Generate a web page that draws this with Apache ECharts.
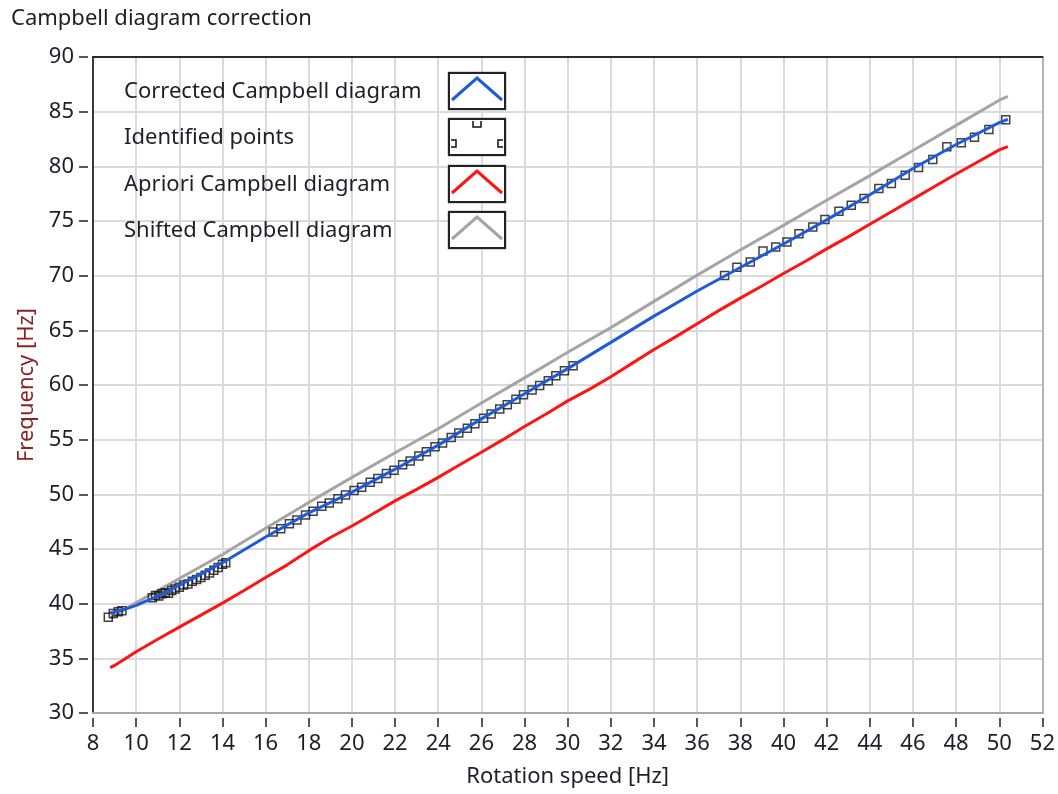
<!DOCTYPE html>
<html>
<head>
<meta charset="utf-8">
<title>Campbell diagram correction</title>
<script src="https://cdn.jsdelivr.net/npm/echarts@6/dist/echarts.min.js"></script>
<style>
  html, body { margin: 0; padding: 0; background: #ffffff; }
  #chart { width: 1058px; height: 794px; }
</style>
</head>
<body>
<div id="chart"></div>
<script>
// Apriori Campbell diagram (red)
const aprioriSpeed = [8.8, 9, 10, 11, 12, 13, 14, 15, 16, 17, 18, 19, 20, 21, 22, 23, 24, 25, 26, 27, 28, 29, 30,
  31, 32, 33, 34, 35, 36, 37, 38, 39, 40, 41, 42, 43, 44, 45, 46, 47, 48, 49, 50, 50.4];
const aprioriFreq = [34.15, 34.35, 35.6, 36.75, 37.85, 38.95, 40.05, 41.2, 42.4, 43.55, 44.85, 46.05, 47.1, 48.25,
  49.4, 50.45, 51.55, 52.7, 53.85, 55.0, 56.2, 57.35, 58.55, 59.6, 60.75, 62.0, 63.25, 64.4, 65.6, 66.8, 67.95,
  69.05, 70.2, 71.3, 72.45, 73.55, 74.7, 75.85, 77.0, 78.15, 79.3, 80.4, 81.5, 81.8];

// Shifted Campbell diagram (grey)
const shiftedSpeed = [8.8, 10, 12, 14, 16, 18, 20, 22, 24, 26, 28, 30, 32, 34, 36, 38, 40, 42, 44, 46, 48, 50, 50.4];
const shiftedFreq = [38.65, 40.1, 42.3, 44.5, 46.9, 49.25, 51.55, 53.8, 56.0, 58.35, 60.65, 63.0, 65.25, 67.65,
  70.05, 72.35, 74.6, 76.9, 79.15, 81.45, 83.75, 86.05, 86.4];

// Corrected Campbell diagram (blue)
const correctedSpeed = [8.8, 9.5, 10, 11, 12, 13, 14, 16, 18, 20, 22, 24, 26, 28, 30, 32, 34, 36, 38, 40, 42, 44,
  46, 48, 50, 50.4];
const correctedFreq = [39.15, 39.5, 39.85, 40.7, 41.7, 42.7, 43.75, 46.1, 48.3, 50.2, 52.3, 54.5, 56.9, 59.2, 61.5,
  63.9, 66.3, 68.6, 70.75, 72.9, 75.1, 77.4, 79.8, 82.0, 84.0, 84.3];

// Identified points (square markers)
const pointSpeed = [8.71, 8.94, 9.17, 9.34,
  10.75, 10.9, 11.05, 11.2, 11.35, 11.5, 11.65, 11.8, 12.0, 12.2, 12.4, 12.6, 12.8, 13.0, 13.2, 13.4, 13.6, 13.8, 14.0, 14.15,
  16.35, 16.7, 17.1, 17.45, 17.85, 18.2, 18.6, 18.95, 19.35, 19.7, 20.1, 20.45, 20.85, 21.2, 21.6, 21.95, 22.35, 22.7,
  23.1, 23.45, 23.85, 24.2, 24.6, 24.95, 25.35, 25.7, 26.1, 26.45, 26.85, 27.2, 27.6, 27.95, 28.35, 28.7, 29.1, 29.45,
  29.85, 30.25,
  37.27, 37.84, 38.46, 39.05, 39.64, 40.16, 40.72, 41.36, 41.92, 42.57, 43.14, 43.73, 44.42, 45.0, 45.64, 46.26,
  46.92, 47.57, 48.24, 48.85, 49.52, 50.3];
const pointFreq = [38.75, 39.1, 39.25, 39.35,
  40.55, 40.75, 40.7, 40.9, 41.0, 40.95, 41.2, 41.35, 41.5, 41.7, 41.8, 42.05, 42.2, 42.4, 42.6, 42.8, 43.05, 43.3, 43.6, 43.75,
  46.55, 46.85, 47.3, 47.65, 48.1, 48.45, 48.9, 49.2, 49.6, 49.95, 50.35, 50.65, 51.1, 51.45, 51.9, 52.2, 52.7, 53.05,
  53.5, 53.9, 54.35, 54.7, 55.2, 55.6, 56.05, 56.45, 56.95, 57.35, 57.8, 58.2, 58.7, 59.1, 59.55, 59.95, 60.4, 60.85,
  61.3, 61.75,
  70.02, 70.78, 71.24, 72.25, 72.62, 73.07, 73.84, 74.45, 75.13, 75.89, 76.44, 77.05, 77.97, 78.43, 79.19, 79.9,
  80.63, 81.79, 82.16, 82.65, 83.38, 84.25];

const legendLabels = ['Corrected Campbell diagram', 'Identified points', 'Apriori Campbell diagram', 'Shifted Campbell diagram'];

const zip = (xs, ys) => xs.map((x, i) => [x, ys[i]]);

const FONT = '"Noto Sans", "Open Sans", sans-serif';
const FS = 22;
const TEXT = '#1e1e28';
const BLUE = '#1f5ad8';
const RED = '#ff1414';
const GREY = '#a5a5a5';

// Legend block: label on the left, framed sample on the right
const rowY = [91, 137, 184, 230];
const boxX = 449, boxW = 56, boxH = 36;
const legendGraphics = [];
legendLabels.forEach((label, i) => {
  const cy = rowY[i];
  legendGraphics.push({
    type: 'text', x: 124, y: cy + 1, z: 100,
    style: { text: label, fill: TEXT, font: FS + 'px ' + FONT, verticalAlign: 'middle', textVerticalAlign: 'middle' }
  });
  legendGraphics.push({
    type: 'rect', z: 100, shape: { x: boxX - 1, y: cy - boxH / 2 - 1, width: boxW + 2, height: boxH + 2 },
    style: { fill: 'none', stroke: '#b0b0b0', lineWidth: 1 }
  });
  legendGraphics.push({
    type: 'rect', z: 101, shape: { x: boxX, y: cy - boxH / 2, width: boxW, height: boxH },
    style: { fill: '#ffffff', stroke: '#222222', lineWidth: 2 }
  });
  const sampleColor = [BLUE, null, RED, GREY][i];
  if (sampleColor) {
    legendGraphics.push({
      type: 'polyline', z: 102, shape: { points: [[boxX + 3, cy + 9], [boxX + 28, cy - 13], [boxX + 53, cy + 9]] },
      style: { stroke: sampleColor, lineWidth: 3, fill: 'none' }
    });
  } else {
    const s = { stroke: '#111', lineWidth: 1.5, fill: 'none' };
    legendGraphics.push({ type: 'polyline', z: 102, shape: { points: [[boxX + 24, cy - 16], [boxX + 24, cy - 10], [boxX + 32, cy - 10], [boxX + 32, cy - 16]] }, style: s });
    legendGraphics.push({ type: 'polyline', z: 102, shape: { points: [[boxX + 2, cy + 3], [boxX + 7, cy + 3], [boxX + 7, cy + 10], [boxX + 2, cy + 10]] }, style: s });
    legendGraphics.push({ type: 'polyline', z: 102, shape: { points: [[boxX + 54, cy + 3], [boxX + 49, cy + 3], [boxX + 49, cy + 10], [boxX + 54, cy + 10]] }, style: s });
  }
});

const labelStyle = { color: TEXT, fontSize: FS, fontFamily: FONT };

const option = {
  animation: false,
  backgroundColor: '#ffffff',
  title: {
    text: 'Campbell diagram correction', left: 6, top: 3,
    textStyle: { color: TEXT, fontSize: FS, fontWeight: 'normal', fontFamily: FONT }
  },
  grid: { left: 93, right: 15, top: 57, bottom: 81, containLabel: false },
  xAxis: [
    {
      type: 'value', min: 8, max: 52, interval: 2, position: 'bottom',
      axisLine: { show: true, onZero: false, lineStyle: { color: '#a8a8a8', width: 2 } },
      axisTick: { show: false }, axisLabel: { show: false },
      splitLine: { show: true, lineStyle: { color: '#dadada', width: 2 } }
    },
    {
      type: 'value', min: 8, max: 52, interval: 2, position: 'bottom', offset: 5,
      axisLine: { show: false, onZero: false },
      axisTick: { show: true, length: 9, lineStyle: { color: '#222', width: 1.5 } },
      axisLabel: Object.assign({ margin: 15 }, labelStyle),
      splitLine: { show: false },
      name: 'Rotation speed [Hz]', nameLocation: 'middle', nameGap: 48,
      nameTextStyle: { color: TEXT, fontSize: FS, fontFamily: FONT }
    },
    {
      type: 'value', min: 8, max: 52, interval: 2, position: 'top',
      axisLine: { show: true, onZero: false, lineStyle: { color: '#2a2a2a', width: 2 } },
      axisTick: { show: false }, axisLabel: { show: false }, splitLine: { show: false }
    }
  ],
  yAxis: [
    {
      type: 'value', min: 30, max: 90, interval: 5, position: 'left',
      axisLine: { show: true, onZero: false, lineStyle: { color: '#3a3a3a', width: 2 } },
      axisTick: { show: false }, axisLabel: { show: false },
      splitLine: { show: true, lineStyle: { color: '#dadada', width: 2 } }
    },
    {
      type: 'value', min: 30, max: 90, interval: 5, position: 'left', offset: 5,
      axisLine: { show: false, onZero: false },
      axisTick: { show: true, length: 9, lineStyle: { color: '#222', width: 1.5 } },
      axisLabel: Object.assign({ margin: 14 }, labelStyle),
      splitLine: { show: false },
      name: 'Frequency [Hz]', nameLocation: 'middle', nameGap: 44, nameRotate: 90,
      nameTextStyle: { color: '#8a2424', fontSize: FS, fontFamily: FONT }
    },
    {
      type: 'value', min: 30, max: 90, interval: 5, position: 'right',
      axisLine: { show: true, onZero: false, lineStyle: { color: '#b4b4b4', width: 2 } },
      axisTick: { show: false }, axisLabel: { show: false }, splitLine: { show: false }
    }
  ],
  series: [
    {
      name: 'Shifted Campbell diagram', type: 'line', data: zip(shiftedSpeed, shiftedFreq),
      showSymbol: false, lineStyle: { color: GREY, width: 3 }, z: 2
    },
    {
      name: 'Apriori Campbell diagram', type: 'line', data: zip(aprioriSpeed, aprioriFreq),
      showSymbol: false, lineStyle: { color: RED, width: 3 }, z: 3
    },
    {
      name: 'Identified points', type: 'scatter', data: zip(pointSpeed, pointFreq),
      symbol: 'rect', symbolSize: 8,
      itemStyle: { color: 'rgba(255,255,255,0)', borderColor: '#111', borderWidth: 1.5 }, z: 4
    },
    {
      name: 'Corrected Campbell diagram', type: 'line', data: zip(correctedSpeed, correctedFreq),
      showSymbol: false, lineStyle: { color: BLUE, width: 3 }, z: 5
    }
  ],
  graphic: legendGraphics
};

const chart = echarts.init(document.getElementById('chart'), null, { renderer: 'canvas' });
chart.setOption(option);
</script>
</body>
</html>
